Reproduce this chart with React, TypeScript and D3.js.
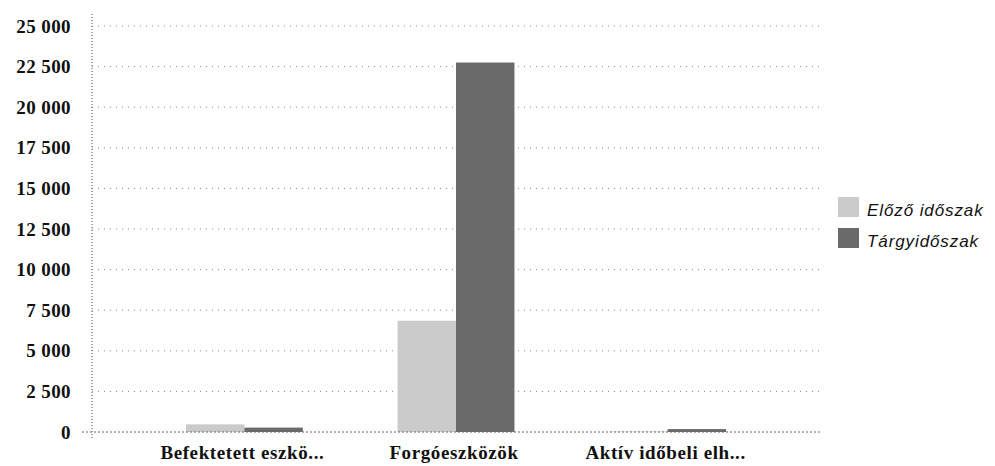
import React, { useRef, useEffect } from "react";
import * as d3 from "d3";

const categories = ["Befektetett eszkö...", "Forgóeszközök", "Aktív időbeli elh..."];
const seriesNames = ["Előző időszak", "Tárgyidőszak"];
const previousValues = [470, 6850, 30];
const currentValues = [270, 22750, 180];
const yTicks = [0, 2500, 5000, 7500, 10000, 12500, 15000, 17500, 20000, 22500, 25000];
const colors = ["#cbcbcb", "#6a6a6a"];

const width = 995;
const height = 466;
const plot = { left: 92, right: 820, top: 26, bottom: 432 };

const fmt = (v: number) => d3.format(",")(v).replace(/,/g, " ");
const serif = "'Liberation Serif', 'DejaVu Serif', serif";

const App = () => {
  const svgRef = useRef<SVGSVGElement>(null);

  useEffect(() => {
    const svg = d3.select(svgRef.current);
    svg.selectAll("*").remove();

    const x = d3.scaleBand()
      .domain(categories)
      .range([plot.left, plot.right])
      .paddingInner(0)
      .paddingOuter(0.22);

    const x1 = d3.scaleBand()
      .domain(seriesNames)
      .range([0, x.bandwidth()])
      .paddingOuter(0.81)
      .paddingInner(0);

    const y = d3.scaleLinear()
      .domain([0, 25000])
      .range([plot.bottom, plot.top]);

    // grid
    svg.append("g")
      .selectAll("line")
      .data(yTicks.filter(t => t > 0))
      .join("line")
      .attr("x1", plot.left)
      .attr("x2", plot.right)
      .attr("y1", d => y(d))
      .attr("y2", d => y(d))
      .attr("stroke", "#8a8a8a")
      .attr("stroke-width", 1)
      .attr("stroke-dasharray", "1 5");

    // y axis line
    svg.append("line")
      .attr("x1", plot.left)
      .attr("x2", plot.left)
      .attr("y1", plot.top - 12)
      .attr("y2", plot.bottom + 8)
      .attr("stroke", "#444")
      .attr("stroke-dasharray", "1 2");

    // y tick labels
    svg.append("g")
      .selectAll("text")
      .data(yTicks)
      .join("text")
      .attr("x", 71)
      .attr("y", d => y(d) + 6.5)
      .attr("text-anchor", "end")
      .attr("font-family", serif)
      .attr("font-weight", "bold")
      .attr("font-size", "19px")
      .attr("letter-spacing", "0.4px")
      .attr("fill", "#111")
      .text(d => fmt(d));

    const data = categories.map((c, i) => ({
      cat: c,
      values: [previousValues[i], currentValues[i]]
    }));

    const groups = svg.append("g")
      .selectAll("g")
      .data(data)
      .join("g")
      .attr("transform", d => `translate(${x(d.cat)},0)`);

    groups.selectAll("rect")
      .data(d => d.values.map((v, i) => ({ name: seriesNames[i], v, i })))
      .join("rect")
      .attr("x", d => x1(d.name)!)
      .attr("width", x1.bandwidth())
      .attr("y", d => y(d.v))
      .attr("height", d => y(0) - y(d.v))
      .attr("fill", d => colors[d.i]);

    // baseline
    svg.append("line")
      .attr("x1", plot.left - 10)
      .attr("x2", plot.right)
      .attr("y1", y(0))
      .attr("y2", y(0))
      .attr("stroke", "#666")
      .attr("stroke-dasharray", "2 2");

    // category labels
    svg.append("g")
      .selectAll("text")
      .data(categories)
      .join("text")
      .attr("x", d => x(d)! + x.bandwidth() / 2 - 2)
      .attr("y", 459)
      .attr("text-anchor", "middle")
      .attr("font-family", serif)
      .attr("font-weight", "bold")
      .attr("font-size", "19px")
      .attr("letter-spacing", "0.6px")
      .attr("fill", "#111")
      .text(d => d);

    // legend
    const legend = svg.append("g")
      .selectAll("g")
      .data(seriesNames)
      .join("g")
      .attr("transform", (d, i) => `translate(838,${197 + i * 31})`);

    legend.append("rect")
      .attr("width", 21)
      .attr("height", 20)
      .attr("fill", (d, i) => colors[i]);

    legend.append("text")
      .attr("x", 29)
      .attr("y", 19)
      .attr("font-family", "'Liberation Sans', Arial, sans-serif")
      .attr("font-style", "italic")
      .attr("font-size", "17px")
      .attr("letter-spacing", "0.9px")
      .attr("fill", "#111")
      .text(d => d);
  }, []);

  return (
    <svg
      ref={svgRef}
      width={width}
      height={height}
      style={{ position: "absolute", left: 0, top: 0, background: "#fff" }}
    />
  );
};

export default App;
